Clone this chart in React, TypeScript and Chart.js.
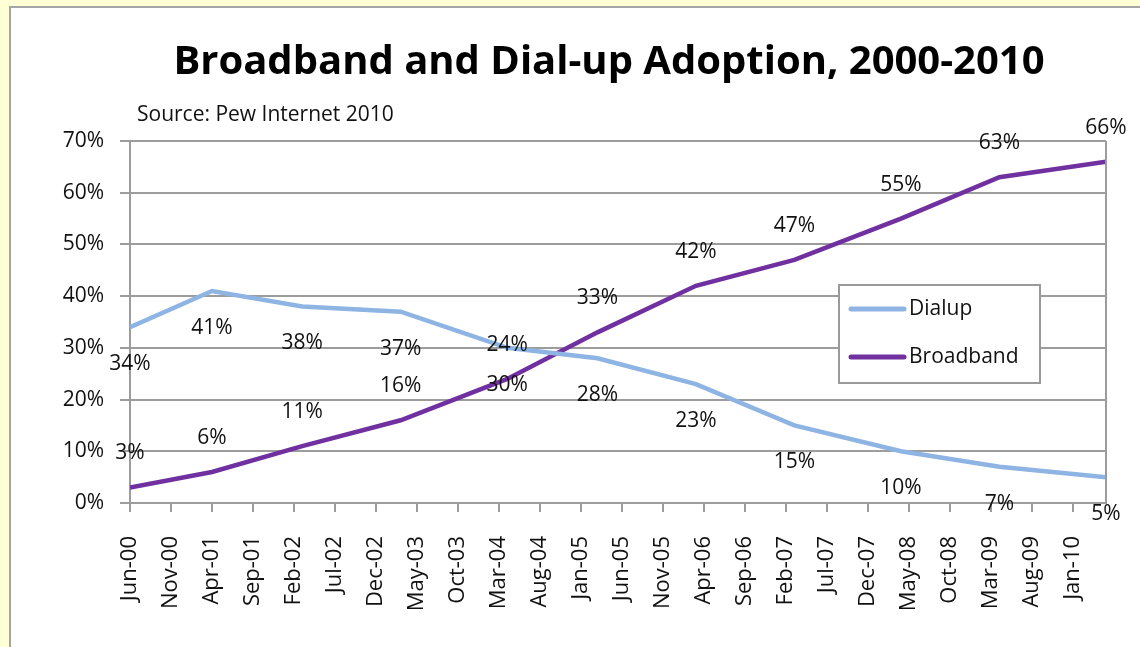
import React, { useEffect, useRef } from "react";
import { Chart, registerables } from "chart.js";

Chart.register(...registerables);

// ---- data ----
const surveyDates = ["Jun-00", "Apr-01", "Mar-02", "Mar-03", "Apr-04", "Mar-05", "Mar-06", "Mar-07", "Apr-08", "Apr-09", "May-10"];
const dialup = [34, 41, 38, 37, 30, 28, 23, 15, 10, 7, 5];
const broadband = [3, 6, 11, 16, 24, 33, 42, 47, 55, 63, 66];
const seriesNames = ["Dialup", "Broadband"];
const yTicks = [0, 10, 20, 30, 40, 50, 60, 70];
const monthNames = ["Jan", "Feb", "Mar", "Apr", "May", "Jun", "Jul", "Aug", "Sep", "Oct", "Nov", "Dec"];
const titleText = "Broadband and Dial-up Adoption, 2000-2010";
const sourceText = "Source: Pew Internet 2010";

const BASE_YEAR = 2000;
const BASE_MONTH = 5; // June

function toIndex(label: string): number {
  const [m, y] = label.split("-");
  const mi = monthNames.indexOf(m);
  const yr = 2000 + parseInt(y, 10);
  return (yr - BASE_YEAR) * 12 + mi - BASE_MONTH;
}
function toLabel(idx: number): string {
  const total = BASE_MONTH + idx;
  const yr = BASE_YEAR + Math.floor(total / 12);
  const m = monthNames[total % 12];
  return `${m}-${String(yr % 100).padStart(2, "0")}`;
}

const xs = surveyDates.map(toIndex);
const DIAL_COLOR = "#8EB4E3";
const BB_COLOR = "#7030A0";
const GRID = "#9C9C9C";
const FONT = '"Open Sans", "DejaVu Sans", sans-serif';

const overlay = {
  id: "overlay",
  afterDatasetsDraw(chart: any) {
    const ctx = chart.ctx;
    const ca = chart.chartArea;
    ctx.save();
    // right border of plot
    ctx.strokeStyle = GRID;
    ctx.lineWidth = 2;
    ctx.beginPath();
    ctx.moveTo(ca.right, ca.top);
    ctx.lineTo(ca.right, ca.bottom);
    ctx.stroke();

    // title
    ctx.fillStyle = "#000";
    ctx.font = `bold 40px ${FONT}`;
    ctx.textAlign = "center";
    ctx.textBaseline = "alphabetic";
    ctx.fillText(titleText, (ca.left + ca.right) / 2 - 9, 66);

    // subtitle
    ctx.font = `21px ${FONT}`;
    ctx.textAlign = "left";
    ctx.fillStyle = "#111";
    ctx.fillText(sourceText, ca.left + 7, 113);

    // data labels
    ctx.font = `21px ${FONT}`;
    ctx.textAlign = "center";
    ctx.textBaseline = "middle";
    ctx.fillStyle = "#111";
    chart.data.datasets.forEach((ds: any, di: number) => {
      const meta = chart.getDatasetMeta(di);
      meta.data.forEach((pt: any, i: number) => {
        const dy = di === 0 ? 37 : -34;
        ctx.fillText(`${ds.data[i].y}%`, pt.x, pt.y + dy);
      });
    });

    // legend box
    const lx = ca.left + 709;
    const ly = ca.top + 144;
    const lw = 201;
    const lh = 98;
    ctx.fillStyle = "#fff";
    ctx.fillRect(lx, ly, lw, lh);
    ctx.strokeStyle = "#9A9A9A";
    ctx.lineWidth = 2;
    ctx.strokeRect(lx, ly, lw, lh);
    const colors = [DIAL_COLOR, BB_COLOR];
    seriesNames.forEach((name, i) => {
      const cy = ly + 24 + i * 48;
      ctx.strokeStyle = colors[i];
      ctx.lineWidth = 5;
      ctx.lineCap = "round";
      ctx.beginPath();
      ctx.moveTo(lx + 12, cy);
      ctx.lineTo(lx + 65, cy);
      ctx.stroke();
      ctx.fillStyle = "#111";
      ctx.font = `21px ${FONT}`;
      ctx.textAlign = "left";
      ctx.textBaseline = "middle";
      ctx.fillText(name, lx + 70, cy);
    });
    ctx.restore();
  },
};

export default function App() {
  const ref = useRef<HTMLCanvasElement | null>(null);
  useEffect(() => {
    if (!ref.current) return;
    const chart = new Chart(ref.current, {
      type: "line",
      data: {
        datasets: [
          {
            label: seriesNames[0],
            data: xs.map((x, i) => ({ x, y: dialup[i] })),
            borderColor: DIAL_COLOR,
            borderWidth: 4.5,
            pointRadius: 0,
            tension: 0,
          },
          {
            label: seriesNames[1],
            data: xs.map((x, i) => ({ x, y: broadband[i] })),
            borderColor: BB_COLOR,
            borderWidth: 4.5,
            pointRadius: 0,
            tension: 0,
          },
        ],
      },
      options: {
        animation: false,
        responsive: false,
        layout: { padding: { top: 133, right: 34, left: 0, bottom: 0 } },
        plugins: { legend: { display: false }, tooltip: { enabled: false }, title: { display: false } },
        scales: {
          x: {
            type: "linear",
            min: xs[0],
            max: xs[xs.length - 1],
            afterFit: (s: any) => { s.height = 144; },
            grid: { drawOnChartArea: false, drawTicks: true, tickLength: 9, color: GRID, lineWidth: 2 },
            border: { display: true, color: GRID, width: 2 },
            ticks: {
              stepSize: 5,
              includeBounds: false,
              autoSkip: false,
              maxRotation: 90,
              minRotation: 90,
              padding: 24,
              color: "#111",
              font: { family: FONT, size: 22 },
              callback: (v: any) => toLabel(Number(v)),
            },
          },
          y: {
            min: yTicks[0],
            max: yTicks[yTicks.length - 1],
            afterFit: (s: any) => { s.width = 119; },
            grid: { color: GRID, lineWidth: 2, tickLength: 10 },
            border: { display: true, color: GRID, width: 2 },
            ticks: {
              stepSize: 10,
              padding: 16,
              color: "#111",
              font: { family: FONT, size: 21 },
              callback: (v: any) => `${v}%`,
            },
          },
        },
      },
      plugins: [overlay],
    });
    return () => chart.destroy();
  }, []);

  return (
    <div style={{ position: "fixed", left: 0, top: 0, width: 1140, height: 647, background: "#FFFFD6", overflow: "hidden" }}>
      <div style={{ position: "absolute", left: 9, top: 6, width: 1160, height: 700, background: "#fff", border: "2px solid #A5A5A5" }}>
        <canvas ref={ref} width={1129} height={639} style={{ position: "absolute", left: 0, top: 0 }} />
      </div>
    </div>
  );
}
